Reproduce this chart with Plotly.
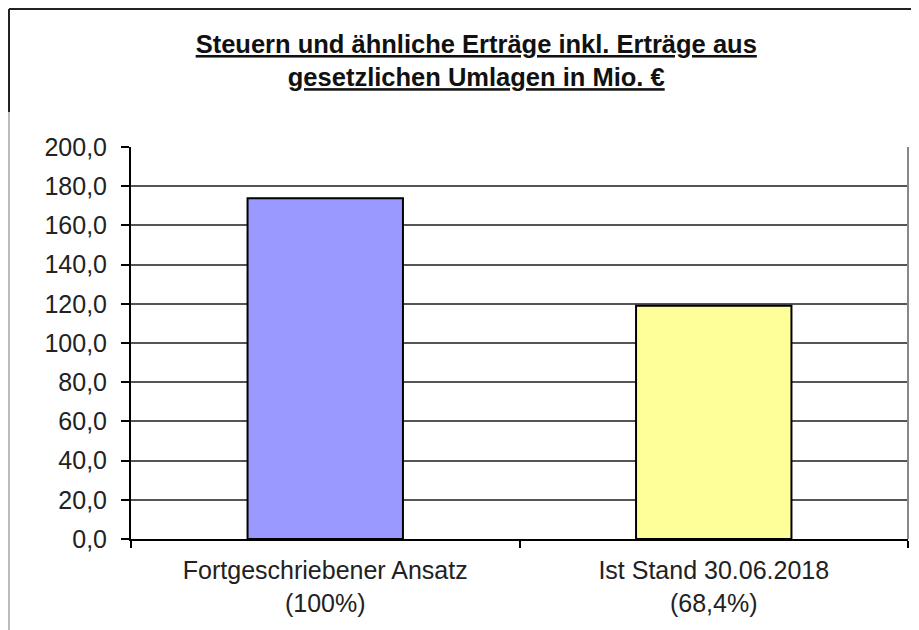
import plotly.graph_objects as go

categories = ["Fortgeschriebener Ansatz<br>(100%)", "Ist Stand 30.06.2018<br>(68,4%)"]
values = [173.9, 119.0]
bar_colors = ["#9999FF", "#FFFF99"]
y_ticks = [0, 20, 40, 60, 80, 100, 120, 140, 160, 180, 200]

title_text = ("<b><u>Steuern und ähnliche Erträge inkl. Erträge aus</u></b><br>"
              "<b><u>gesetzlichen Umlagen in Mio. €</u></b>")

W, H = 911, 622
L, R, T, B = 123, 11, 139, 91
PW, PH = W - L - R, H - T - B

fig = go.Figure()
fig.add_trace(go.Bar(
    x=categories, y=values,
    marker=dict(color=bar_colors, line=dict(color="black", width=2)),
    width=0.40,
))

fig.update_layout(
    width=W, height=H,
    margin=dict(l=L, r=R, t=T, b=B),
    paper_bgcolor="white", plot_bgcolor="white",
    separators=",.",
    showlegend=False,
    font=dict(family="Liberation Sans, Arial, sans-serif", color="#222222"),
    title=dict(text=title_text, x=0.514, xanchor="center", y=1 - 45 / H, yanchor="top",
               font=dict(size=25.5, color="#111111", family="Liberation Sans, Arial, sans-serif")),
    xaxis=dict(showline=True, linecolor="black", linewidth=2,
               ticks="outside", tickson="boundaries", ticklen=7, tickcolor="black", tickwidth=1.5,
               ticklabelstandoff=8,
               tickfont=dict(size=25, color="#222222"), showgrid=False),
    yaxis=dict(range=[0, 200], tickvals=y_ticks, tickformat=".1f",
               showline=True, linecolor="black", linewidth=2,
               ticks="outside", ticklen=8, tickcolor="black", tickwidth=1.5,
               ticklabelstandoff=9,
               tickfont=dict(size=25, color="#222222"),
               showgrid=True, gridcolor="#555555", gridwidth=1.5,
               zeroline=False),
)

# right border of plot area
fig.add_shape(type="line", xref="paper", yref="paper", x0=1, x1=1, y0=0, y1=1,
              line=dict(color="#888888", width=2))
# outer frame (top and left)
top_y = 1 + (T - 1) / PH
left_x = -(L - 1) / PW
fig.add_shape(type="line", xref="paper", yref="paper", x0=left_x, x1=1 + R / PW,
              y0=top_y, y1=top_y, line=dict(color="#222222", width=2))
fig.add_shape(type="line", xref="paper", yref="paper", x0=left_x, x1=left_x,
              y0=top_y, y1=1 + 35 / PH, line=dict(color="#222222", width=2))
fig.add_shape(type="line", xref="paper", yref="paper", x0=left_x, x1=left_x,
              y0=1 + 35 / PH, y1=-B / PH, line=dict(color="#bbbbbb", width=2))

fig.write_html("out.html")
